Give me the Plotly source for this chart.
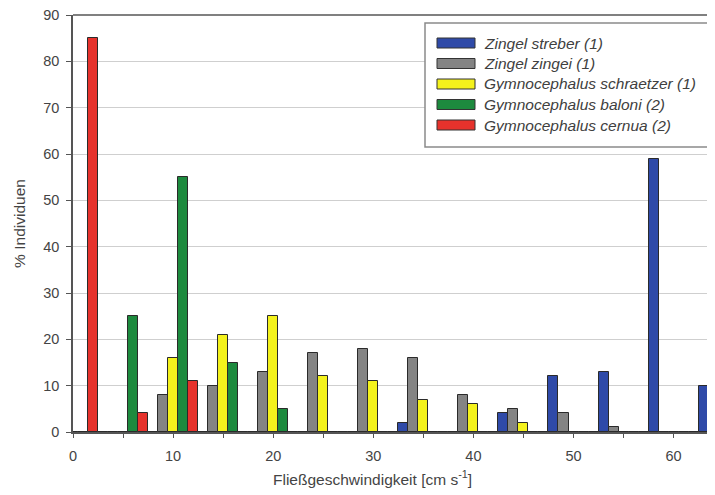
import plotly.graph_objects as go

# group centres (cm/s)
x_centres = [0, 5, 10, 15, 20, 25, 30, 35, 40, 45, 50, 55, 60, 65]

series_names = [
    "Zingel streber (1)",
    "Zingel zingei (1)",
    "Gymnocephalus schraetzer (1)",
    "Gymnocephalus baloni (2)",
    "Gymnocephalus cernua (2)",
]
zingel_streber = [0, 0, 0, 0, 0, 0, 0, 2, 0, 4, 12, 13, 59, 10]
zingel_zingel = [0, 0, 8, 10, 13, 17, 18, 16, 8, 5, 4, 1, 0, 0]
gymno_schraetzer = [0, 0, 16, 21, 25, 12, 11, 7, 6, 2, 0, 0, 0, 0]
gymno_baloni = [0, 25, 55, 15, 5, 0, 0, 0, 0, 0, 0, 0, 0, 0]
gymno_cernua = [85, 4, 11, 0, 0, 0, 0, 0, 0, 0, 0, 0, 0, 0]

y_ticks = [0, 10, 20, 30, 40, 50, 60, 70, 80, 90]
x_ticks = [0, 10, 20, 30, 40, 50, 60]

colors = ["#2f4aa8", "#848484", "#f4f21c", "#1d8a3e", "#e6322c"]
values = [zingel_streber, zingel_zingel, gymno_schraetzer, gymno_baloni, gymno_cernua]

FONT = "Liberation Sans, Arial, sans-serif"

# page has an 8px body margin -> figure is shifted by 8px
OFF = 8
W, H = 707, 487
ml, mr, mt, mb = 65, 0, 7, 63
pw, ph = W - ml - mr, H - mt - mb

fig = go.Figure()
for name, vals, col in zip(series_names, values, colors):
    fig.add_trace(go.Bar(
        x=x_centres, y=vals, name=name,
        marker=dict(color=col, line=dict(color="#2a2a2a", width=1)),
        showlegend=False,
    ))


def px2paper_x(px):
    return (px - OFF - ml) / pw


def px2paper_y(py):
    return (H - mb - (py - OFF)) / ph


# custom legend (wide swatches like the original)
L_x0, L_x1, L_top, L_bot = 425, 710, 23, 147
shapes = [dict(type="rect", xref="paper", yref="paper",
               x0=px2paper_x(L_x0), x1=px2paper_x(L_x1),
               y0=px2paper_y(L_bot), y1=px2paper_y(L_top),
               line=dict(color="#8a8a8a", width=1.5), fillcolor="white", layer="above")]
annotations = []
row_y = [43, 63.5, 84, 104.5, 125]
for name, col, ry in zip(series_names, colors, row_y):
    shapes.append(dict(type="rect", xref="paper", yref="paper",
                       x0=px2paper_x(437), x1=px2paper_x(475),
                       y0=px2paper_y(ry + 5), y1=px2paper_y(ry - 5),
                       line=dict(color="#333333", width=1), fillcolor=col, layer="above"))
    annotations.append(dict(xref="paper", yref="paper", x=px2paper_x(482), y=px2paper_y(ry),
                            xanchor="left", yanchor="middle", showarrow=False,
                            text="<i>" + name + "</i>",
                            font=dict(family=FONT, size=15.5, color="#404040")))

# x-axis title (offset to the left like the original)
annotations.append(dict(xref="paper", yref="paper", x=px2paper_x(372), y=px2paper_y(478),
                        xanchor="center", yanchor="middle", showarrow=False,
                        text="Fließgeschwindigkeit [cm s<sup>-1</sup>]",
                        font=dict(family=FONT, size=15.5, color="#444444")))

# top frame line
shapes.append(dict(type="line", xref="paper", yref="paper", x0=0, x1=1, y0=1, y1=1,
                   line=dict(color="#808080", width=2)))

fig.update_layout(
    width=W, height=H,
    margin=dict(l=ml, r=mr, t=mt, b=mb),
    paper_bgcolor="white", plot_bgcolor="white",
    barmode="group", bargap=0, bargroupgap=0,
    font=dict(family=FONT, color="#444444"),
    shapes=shapes, annotations=annotations,
    xaxis=dict(range=[0, pw * 10 / 100.1], tickvals=x_ticks,
               ticks="outside", ticklen=4, tickcolor="#555555",
               minor=dict(dtick=5, tick0=0, ticks="outside", ticklen=4, tickcolor="#555555", showgrid=False),
               showline=True, linecolor="#555555", linewidth=1.5,
               showgrid=False, zeroline=False,
               ticklabelstandoff=6, ticklabeloverflow="allow",
               tickfont=dict(size=14.5, color="#444444")),
    yaxis=dict(range=[0, 90], tickvals=y_ticks,
               ticks="outside", ticklen=5, tickcolor="#555555",
               showline=True, linecolor="#555555", linewidth=1.5,
               showgrid=True, gridcolor="#cfcfcf", gridwidth=1, zeroline=False,
               ticklabelstandoff=4, ticklabeloverflow="allow",
               tickfont=dict(size=14.5, color="#444444"),
               title=dict(text="% Individuen", font=dict(size=15.5, color="#444444"), standoff=14)),
)

fig.write_html("out.html")
